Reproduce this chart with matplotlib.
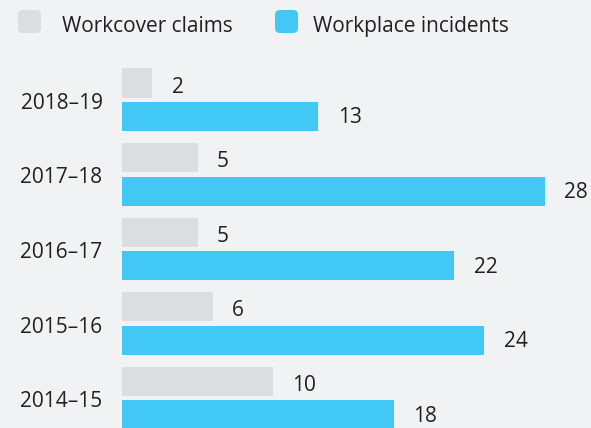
import numpy as np
import matplotlib.pyplot as plt
from matplotlib.patches import FancyBboxPatch

years = ["2018–19", "2017–18", "2016–17", "2015–16", "2014–15"]
workcover_claims = [2, 5, 5, 6, 10]
workplace_incidents = [13, 28, 22, 24, 18]

bg = "#f1f2f4"
grey = "#dcdddf"
blue = "#42c8f4"
text_color = "#231f20"

plt.rcParams["font.family"] = ["Open Sans", "DejaVu Sans"]

W, H = 591, 428
fig = plt.figure(figsize=(W / 100, H / 100), dpi=100, facecolor=bg)

# axes placed in pixel terms: left edge = value 0, top under the legend
left_px, top_px = 122, 50
ax = fig.add_axes([left_px / W, 0, (W - left_px) / W, (H - top_px) / H])
ax.set_facecolor(bg)

y = np.arange(len(years))
bar_h = 0.39
off = 0.225
ax.barh(y - off, workcover_claims, height=bar_h, color=grey)
ax.barh(y + off, workplace_incidents, height=bar_h, color=blue)

for yi, v in zip(y, workcover_claims):
    ax.annotate(str(v), (v, yi - off), xytext=(14, -3), textcoords="offset points",
                ha="left", va="center", fontsize=15, color=text_color)
for yi, v in zip(y, workplace_incidents):
    ax.annotate(str(v), (v, yi + off), xytext=(14, -1), textcoords="offset points",
                ha="left", va="center", fontsize=15, color=text_color)

px_per_unit = 74.6
top = -(99.75 - top_px) / px_per_unit
ax.set_ylim(top + (H - top_px) / px_per_unit, top)
ax.set_xlim(0, (W - left_px) / 15.1)

ax.set_yticks(y + 0.015)
ax.set_yticklabels(years, fontsize=15, color=text_color)
ax.tick_params(axis="y", length=0, pad=14)
ax.set_xticks([])
for s in ax.spines.values():
    s.set_visible(False)

# legend with rounded swatches (sizes in inches, 100 px each)
def swatch(x0, color):
    p = FancyBboxPatch((x0 / 100, (H - 33) / 100), 0.23, 0.23,
                       boxstyle="round,pad=0,rounding_size=0.05",
                       transform=fig.dpi_scale_trans, facecolor=color,
                       edgecolor="none")
    fig.patches.append(p)

swatch(18, grey)
swatch(275, blue)
fig.text(62 / W, (H - 32) / H, "Workcover claims", fontsize=15,
         color=text_color, va="baseline", ha="left")
fig.text(313 / W, (H - 32) / H, "Workplace incidents", fontsize=15,
         color=text_color, va="baseline", ha="left")

fig.savefig("out.png", dpi=100, facecolor=bg)
